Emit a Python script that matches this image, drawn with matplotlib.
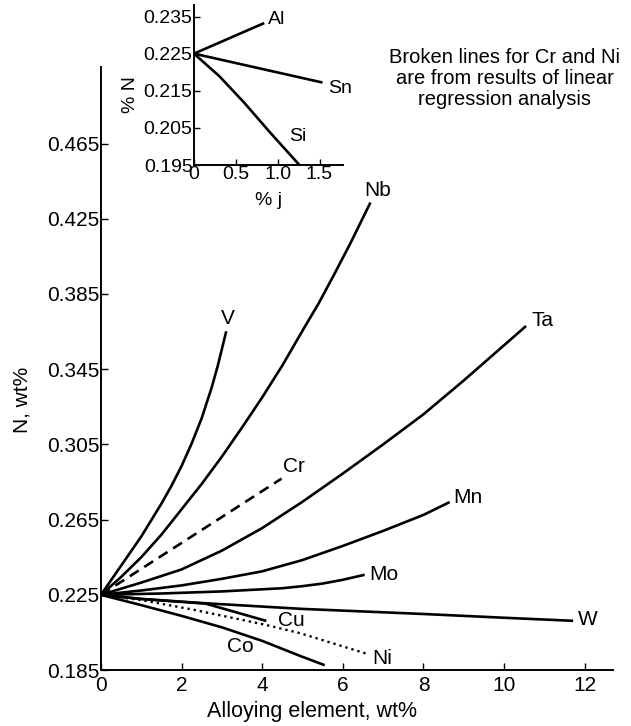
import numpy as np
import matplotlib
matplotlib.use("Agg")
import matplotlib.pyplot as plt

plt.rcParams['font.family'] = ['Liberation Sans', 'DejaVu Sans']

# main chart data, wt%
v_x = [0, 0.5, 1.0, 1.5, 1.75, 2.0, 2.25, 2.5, 2.75, 2.9, 3.10]
v_y = [0.225, 0.2405, 0.256, 0.2735, 0.283, 0.2935, 0.3055, 0.319, 0.3355, 0.347, 0.3645]

nb_x = [0, 0.5, 1.0, 1.5, 2.0, 2.5, 3.0, 3.5, 4.0, 4.5, 5.0, 5.4, 5.8, 6.2, 6.67]
nb_y = [0.225, 0.2345, 0.245, 0.257, 0.2705, 0.284, 0.2985, 0.314, 0.330, 0.347,
        0.3655, 0.380, 0.396, 0.4125, 0.433]

cr_x = [0, 4.48]
cr_y = [0.225, 0.2868]

ta_x = [0, 1.0, 2.0, 3.0, 4.0, 5.0, 6.0, 7.0, 8.0, 9.0, 10.52]
ta_y = [0.225, 0.2315, 0.2385, 0.2485, 0.2605, 0.2745, 0.2895, 0.305, 0.321, 0.339, 0.3675]

mn_x = [0, 1.0, 2.0, 3.0, 4.0, 5.0, 6.0, 7.0, 8.0, 8.62]
mn_y = [0.225, 0.2273, 0.230, 0.2335, 0.2375, 0.2435, 0.251, 0.259, 0.2675, 0.274]

mo_x = [0, 1.5, 3.0, 4.5, 5.0, 5.5, 6.0, 6.51]
mo_y = [0.225, 0.2257, 0.2268, 0.2285, 0.2296, 0.231, 0.2330, 0.2355]

w_x = [0, 1.0, 2.6, 5.0, 8.0, 10.0, 11.68]
w_y = [0.225, 0.2228, 0.2205, 0.2175, 0.2148, 0.2128, 0.2112]

cu_x = [0, 1.0, 2.6, 4.07]
cu_y = [0.225, 0.2228, 0.2203, 0.2113]

ni_x = [0, 1.0, 2.29, 4.07, 4.94, 6.63]
ni_y = [0.225, 0.2222, 0.2171, 0.2091, 0.2046, 0.1934]

co_x = [0, 1.0, 2.0, 3.0, 4.0, 4.94, 5.52]
co_y = [0.225, 0.2195, 0.2138, 0.2077, 0.2005, 0.1925, 0.1878]

# inset data
al_x = [0, 0.825]
al_y = [0.225, 0.2331]
sn_x = [0, 1.52]
sn_y = [0.225, 0.2173]
si_x = [0, 0.3, 0.6, 0.9, 1.26]
si_y = [0.225, 0.219, 0.2118, 0.204, 0.195]

main_xticks = [0, 2, 4, 6, 8, 10, 12]
main_yticks = [0.185, 0.225, 0.265, 0.305, 0.345, 0.385, 0.425, 0.465]
ins_xticks = [0, 0.5, 1.0, 1.5]
ins_xlabels = ['0', '0.5', '1.0', '1.5']
ins_yticks = [0.195, 0.205, 0.215, 0.225, 0.235]

fig = plt.figure(figsize=(6.31, 7.26), dpi=100)
ax = fig.add_axes([0.160, 0.0771, 0.8114, 0.8306])

lw = 1.9
ax.plot(v_x, v_y, 'k-', lw=lw)
ax.plot(nb_x, nb_y, 'k-', lw=lw)
ax.plot(cr_x, cr_y, 'k--', lw=lw, dashes=(4, 2.5))
ax.plot(ta_x, ta_y, 'k-', lw=lw)
ax.plot(mn_x, mn_y, 'k-', lw=lw)
ax.plot(mo_x, mo_y, 'k-', lw=lw)
ax.plot(w_x, w_y, 'k-', lw=lw)
ax.plot(cu_x, cu_y, 'k-', lw=lw)
ax.plot(ni_x, ni_y, 'k:', lw=1.7)
ax.plot(co_x, co_y, 'k-', lw=lw)

fs_lab = 15
ax.text(3.15, 0.3718, 'V', fontsize=fs_lab, ha='center', va='center')
ax.text(6.87, 0.440, 'Nb', fontsize=fs_lab, ha='center', va='center')
ax.text(10.95, 0.3708, 'Ta', fontsize=fs_lab, ha='center', va='center')
ax.text(4.78, 0.293, 'Cr', fontsize=fs_lab, ha='center', va='center')
ax.text(9.1, 0.2766, 'Mn', fontsize=fs_lab, ha='center', va='center')
ax.text(7.02, 0.2358, 'Mo', fontsize=fs_lab, ha='center', va='center')
ax.text(12.08, 0.2118, 'W', fontsize=fs_lab, ha='center', va='center')
ax.text(6.98, 0.1913, 'Ni', fontsize=fs_lab, ha='center', va='center')
ax.text(4.72, 0.2112, 'Cu', fontsize=fs_lab, ha='center', va='center')
ax.text(3.45, 0.1975, 'Co', fontsize=fs_lab, ha='center', va='center')

ax.set_xlim(0, 12.7)
ax.set_ylim(0.185, 0.5057)
ax.set_xticks(main_xticks)
ax.set_yticks(main_yticks)
ax.set_yticklabels(['%.3f' % t for t in main_yticks])
ax.tick_params(direction='in', length=5, width=1, labelsize=15, pad=1)
ax.tick_params(axis='x', pad=4)
ax.spines['top'].set_visible(False)
ax.spines['right'].set_visible(False)
ax.spines['left'].set_linewidth(1.4)
ax.spines['bottom'].set_linewidth(1.4)
ax.set_xlabel('Alloying element, wt%', fontsize=15.5)
ax.xaxis.set_label_coords(0.412, -0.052)
ax.set_ylabel('N, wt%', fontsize=15)
ax.yaxis.set_label_coords(-0.135, 0.448)

fig.text(0.800, 0.892, 'Broken lines for Cr and Ni\nare from results of linear\nregression analysis',
         fontsize=14.5, ha='center', va='center', linespacing=1.15)

# inset
ins = fig.add_axes([0.3074, 0.7727, 0.2361, 0.2204])
ins.plot(al_x, al_y, 'k-', lw=lw)
ins.plot(sn_x, sn_y, 'k-', lw=lw)
ins.plot(si_x, si_y, 'k-', lw=lw)
ins.text(0.985, 0.2341, 'Al', fontsize=14, ha='center', va='center')
ins.text(1.74, 0.2157, 'Sn', fontsize=14, ha='center', va='center')
ins.text(1.24, 0.2026, 'Si', fontsize=14, ha='center', va='center')
ins.set_xlim(0, 1.78)
ins.set_ylim(0.195, 0.2381)
ins.set_xticks(ins_xticks)
ins.set_xticklabels(ins_xlabels)
ins.set_yticks(ins_yticks)
ins.set_yticklabels(['%.3f' % t for t in ins_yticks])
ins.tick_params(direction='in', length=4, width=1, labelsize=14, pad=1)
ins.spines['top'].set_visible(False)
ins.spines['right'].set_visible(False)
ins.spines['left'].set_linewidth(1.4)
ins.spines['bottom'].set_linewidth(1.4)
ins.patch.set_alpha(0)
ins.set_xlabel('% j', fontsize=14)
ins.xaxis.set_label_coords(0.5, -0.17)
ins.set_ylabel('% N', fontsize=14)
ins.yaxis.set_label_coords(-0.37, 0.44)

fig.savefig('out.png', dpi=100)
